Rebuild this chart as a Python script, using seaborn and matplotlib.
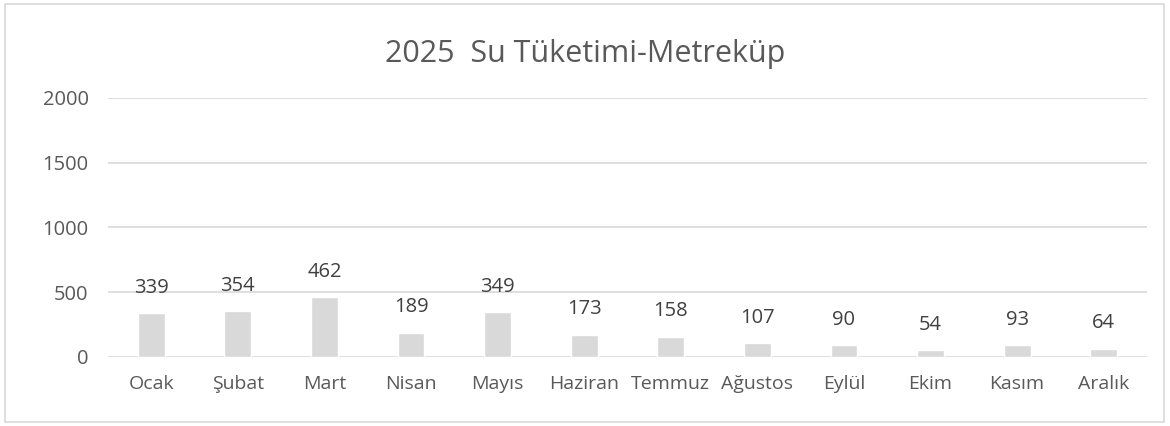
import matplotlib
matplotlib.use("Agg")
import matplotlib.pyplot as plt
import seaborn as sns
import pandas as pd
from matplotlib.patches import Rectangle

months = ["Ocak", "Şubat", "Mart", "Nisan", "Mayıs", "Haziran", "Temmuz",
          "Ağustos", "Eylül", "Ekim", "Kasım", "Aralık"]
values = [339, 354, 462, 189, 349, 173, 158, 107, 90, 54, 93, 64]
yticks = [0, 500, 1000, 1500, 2000]
title = "2025  Su Tüketimi-Metreküp"

sns.set_style("white")
plt.rcParams['font.family'] = ['Open Sans', 'DejaVu Sans']

df = pd.DataFrame({"month": months, "value": values})

fig = plt.figure(figsize=(11.7, 4.26), dpi=100)
ax = fig.add_axes([0.0923, 0.162, 0.888, 0.608])
sns.barplot(data=df, x="month", y="value", color="#D9D9D9", width=0.31,
            saturation=1, ax=ax, zorder=3)
ax.set_ylim(0, 2000)
ax.set_yticks(yticks)
ax.set_yticklabels([str(t) for t in yticks], fontsize=14.5, color="#595959")
ax.set_xlim(-0.5, 11.5)
ax.tick_params(axis="x", labelsize=14, colors="#595959", length=0, pad=13)
ax.tick_params(axis="y", length=0, pad=14)
ax.set_xlabel("")
ax.set_ylabel("")
ax.grid(axis="y", color="#D9D9D9", linewidth=1.2, zorder=0)
for s in ax.spines.values():
    s.set_visible(False)
for c in ax.containers:
    ax.bar_label(c, labels=[str(v) for v in values], padding=11, fontsize=14.5,
                 color="#404040")
fig.text(0.5, 0.873, title, ha="center", va="center", fontsize=22,
         color="#595959")
fig.patches.append(Rectangle((0.004, 0.009), 0.991, 0.981, transform=fig.transFigure,
                             fill=False, edgecolor="#D9D9D9", linewidth=1.2))
fig.savefig("out.png", dpi=100)
